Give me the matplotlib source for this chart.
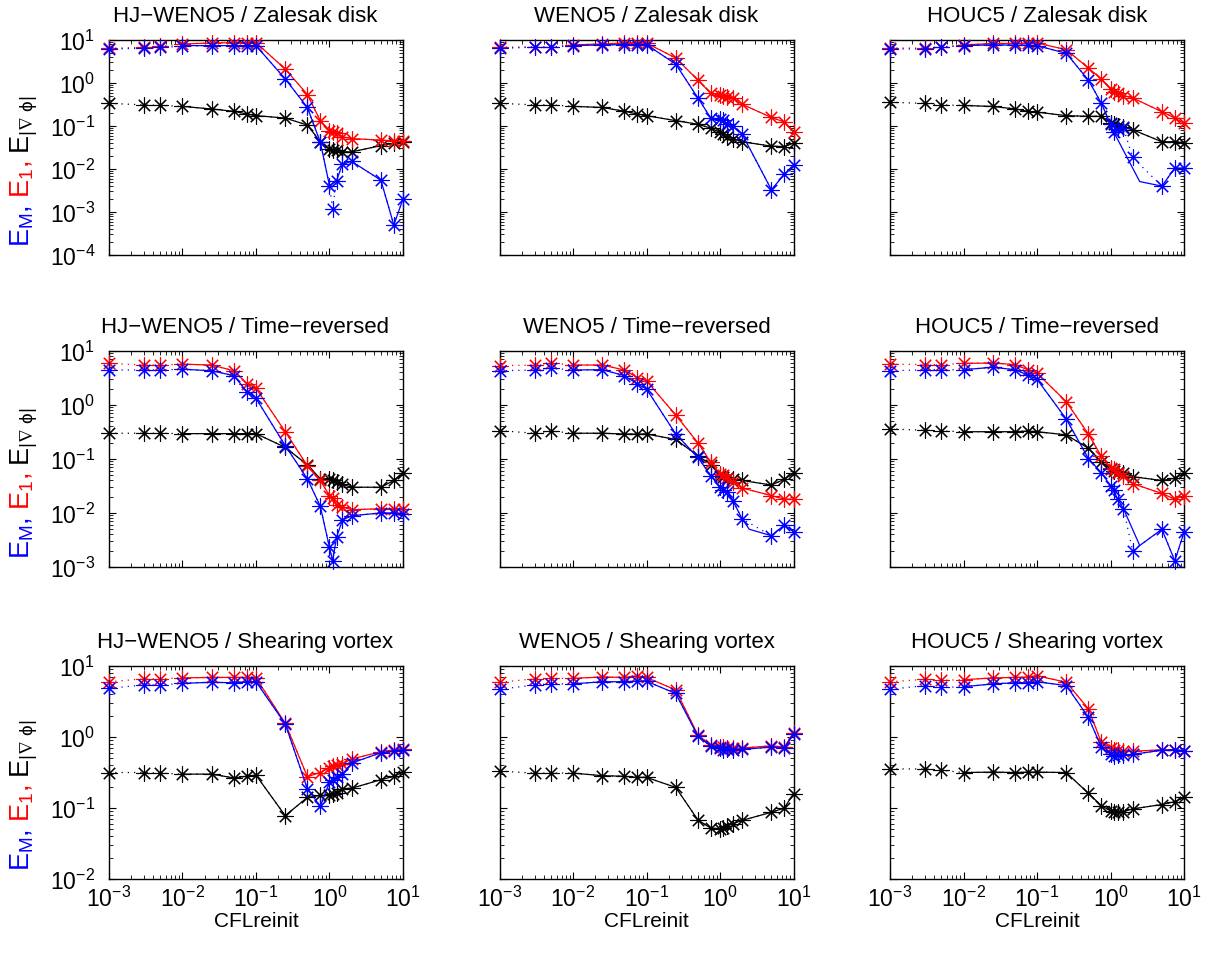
import matplotlib
matplotlib.use("Agg")
import matplotlib.pyplot as plt
from matplotlib.ticker import LogLocator, NullFormatter

plt.rcParams["font.family"] = ["Liberation Sans", "DejaVu Sans"]
plt.rcParams["mathtext.fontset"] = "custom"
plt.rcParams["mathtext.rm"] = "Liberation Sans"
plt.rcParams["mathtext.it"] = "Liberation Sans"

# CFLreinit values (x axis), same for every panel
cfl = [1e-3, 3e-3, 5e-3, 1e-2, 2.5e-2, 5e-2, 7.5e-2, 0.1, 0.25, 0.5, 0.75,
       1.0, 1.1, 1.25, 1.5, 2.0, 5.0, 7.5, 10.0]

schemes = ["HJ\u2212WENO5", "WENO5", "HOUC5"]
cases = ["Zalesak disk", "Time\u2212reversed", "Shearing vortex"]

# Zalesak disk
hj_zal_em = [6.2, 6.4, 6.8, 7.1, 7.4, 7.4, 7.4, 7.4, 1.24, 0.27, 0.042, 0.0041, 0.0012,
             0.0054, 0.013, 0.015, 0.0055, 0.0005, 0.002]
hj_zal_e1 = [6.4, 6.8, 7.1, 8.1, 8.5, 8.7, 8.7, 8.7, 2.1, 0.54, 0.133, 0.078, 0.071,
             0.068, 0.056, 0.051, 0.047, 0.045, 0.044]
hj_zal_eg = [0.336, 0.31, 0.3, 0.286, 0.248, 0.22, 0.19, 0.174, 0.153, 0.105, 0.043, 0.029,
             0.028, 0.027, 0.025, 0.025, 0.035, 0.04, 0.043]
we_zal_em = [6.4, 6.8, 6.8, 7.4, 7.7, 7.8, 7.8, 7.8, 2.75, 0.45, 0.153, 0.146, 0.14,
             0.111, 0.099, 0.065, 0.0033, 0.0075, 0.0125]
we_zal_e1 = [6.8, 6.9, 6.9, 7.7, 8.1, 8.5, 8.7, 8.5, 3.8, 1.17, 0.575, 0.52, 0.5,
             0.47, 0.45, 0.32, 0.158, 0.124, 0.072]
we_zal_eg = [0.336, 0.31, 0.31, 0.286, 0.27, 0.22, 0.19, 0.174, 0.133, 0.11, 0.089, 0.071,
             0.066, 0.056, 0.05, 0.043, 0.034, 0.033, 0.04]
ho_zal_em = [6.2, 6.2, 6.8, 7.4, 7.7, 7.6, 7.6, 7.4, 4.9, 1.17, 0.34, 0.11, 0.074,
             0.085, 0.09, 0.0186, 0.004, 0.0105, 0.0105]
ho_zal_e1 = [6.5, 6.5, 6.9, 7.7, 8.3, 8.3, 8.5, 8.5, 5.96, 2.23, 1.24, 0.72, 0.63,
             0.58, 0.51, 0.45, 0.215, 0.153, 0.115]
ho_zal_eg = [0.355, 0.336, 0.31, 0.3, 0.285, 0.25, 0.22, 0.21, 0.174, 0.168, 0.168, 0.12,
             0.11, 0.1, 0.093, 0.082, 0.043, 0.043, 0.041]

# Time-reversed
hj_tr_em = [4.45, 4.45, 4.45, 4.6, 4.3, 3.5, 1.77, 1.33, 0.177, 0.043, 0.0133, 0.0023, 0.0013,
            0.0036, 0.0074, 0.0089, 0.01, 0.01, 0.0095]
hj_tr_e1 = [5.9, 5.5, 5.5, 5.7, 5.5, 4.3, 2.5, 2.04, 0.32, 0.075, 0.04, 0.021, 0.019,
            0.0138, 0.013, 0.0115, 0.012, 0.012, 0.012]
hj_tr_eg = [0.3, 0.3, 0.3, 0.295, 0.295, 0.295, 0.295, 0.295, 0.164, 0.078, 0.043, 0.043, 0.04,
            0.037, 0.034, 0.03, 0.03, 0.04, 0.055]
we_tr_em = [4.3, 4.45, 4.8, 4.45, 4.5, 3.5, 2.45, 1.98, 0.29, 0.107, 0.049, 0.03, 0.027,
            0.025, 0.0167, 0.0078, 0.0038, 0.006, 0.0045]
we_tr_e1 = [5.35, 5.5, 6.0, 5.5, 5.5, 4.45, 3.2, 2.8, 0.65, 0.2, 0.087, 0.053, 0.05,
            0.045, 0.038, 0.029, 0.021, 0.018, 0.018]
we_tr_eg = [0.335, 0.3, 0.33, 0.3, 0.3, 0.29, 0.29, 0.29, 0.23, 0.115, 0.079, 0.049, 0.047,
            0.045, 0.042, 0.04, 0.033, 0.042, 0.055]
ho_tr_em = [4.3, 4.5, 4.5, 4.5, 5.0, 4.5, 3.6, 3.0, 0.55, 0.102, 0.056, 0.032, 0.027,
            0.018, 0.012, 0.002, 0.005, 0.0013, 0.0044]
ho_tr_e1 = [5.7, 5.6, 5.6, 5.9, 6.0, 5.6, 4.5, 3.9, 1.15, 0.29, 0.112, 0.068, 0.064,
            0.054, 0.048, 0.035, 0.023, 0.018, 0.021]
ho_tr_eg = [0.36, 0.34, 0.33, 0.32, 0.32, 0.32, 0.33, 0.32, 0.28, 0.158, 0.089, 0.065, 0.06,
            0.057, 0.055, 0.047, 0.04, 0.044, 0.054]

# Shearing vortex
hj_sv_em = [4.85, 5.4, 5.4, 5.7, 5.9, 5.8, 6.0, 6.0, 1.53, 0.186, 0.106, 0.23, 0.25,
            0.27, 0.3, 0.43, 0.6, 0.63, 0.66]
hj_sv_e1 = [6.0, 6.6, 6.6, 6.8, 6.9, 6.9, 6.9, 6.8, 1.56, 0.276, 0.316, 0.37, 0.39,
            0.4, 0.42, 0.49, 0.62, 0.66, 0.68]
hj_sv_eg = [0.316, 0.316, 0.31, 0.3, 0.3, 0.265, 0.28, 0.29, 0.078, 0.141, 0.15, 0.15, 0.16,
            0.165, 0.186, 0.19, 0.25, 0.28, 0.32]
we_sv_em = [4.7, 5.4, 5.6, 5.6, 6.0, 6.0, 6.1, 6.1, 4.1, 1.03, 0.74, 0.69, 0.66,
            0.67, 0.66, 0.67, 0.72, 0.7, 1.1]
we_sv_e1 = [5.9, 6.6, 6.7, 6.7, 7.0, 6.9, 7.3, 6.9, 4.6, 1.07, 0.77, 0.73, 0.72,
            0.7, 0.69, 0.7, 0.75, 0.72, 1.15]
we_sv_eg = [0.33, 0.31, 0.31, 0.31, 0.285, 0.28, 0.27, 0.27, 0.195, 0.068, 0.052, 0.051, 0.053,
            0.056, 0.06, 0.067, 0.087, 0.1, 0.16]
ho_sv_em = [4.7, 5.3, 5.0, 5.1, 5.6, 5.8, 5.8, 6.0, 5.3, 1.9, 0.72, 0.57, 0.54,
            0.55, 0.55, 0.57, 0.65, 0.66, 0.64]
ho_sv_e1 = [6.0, 6.5, 6.3, 6.4, 6.8, 6.9, 7.0, 7.3, 5.9, 2.5, 0.84, 0.7, 0.66,
            0.65, 0.64, 0.63, 0.66, 0.66, 0.64]
ho_sv_eg = [0.355, 0.355, 0.34, 0.316, 0.32, 0.316, 0.32, 0.32, 0.316, 0.161, 0.108, 0.091, 0.088,
            0.088, 0.089, 0.097, 0.112, 0.123, 0.141]

# solid curves that leave the marker points somewhere
hj_zal_em_line_x = [1e-2, 2.5e-2, 5e-2, 7.5e-2, 0.1, 0.25, 0.5, 0.75, 1.0, 1.25, 1.5, 2.0, 5.0, 7.5, 10.0]
hj_zal_em_line_y = [7.4, 7.4, 7.4, 7.4, 7.4, 1.24, 0.27, 0.042, 0.0041, 0.0054, 0.013, 0.015,
                    0.0055, 0.0005, 0.002]
ho_zal_em_line_x = [1e-2, 2.5e-2, 5e-2, 7.5e-2, 0.1, 0.25, 0.5, 0.75, 1.0, 1.1, 2.5, 5.0, 7.5, 10.0]
ho_zal_em_line_y = [7.4, 7.7, 7.6, 7.6, 7.4, 4.9, 1.17, 0.34, 0.11, 0.074, 0.0051, 0.004,
                    0.0105, 0.0105]
we_tr_em_line_x = [1e-2, 2.5e-2, 5e-2, 7.5e-2, 0.1, 0.25, 0.5, 0.75, 1.0, 1.1, 1.25, 1.5, 2.0,
                   2.5, 5.0, 7.5, 10.0]
we_tr_em_line_y = [4.45, 4.5, 3.5, 2.45, 1.98, 0.29, 0.107, 0.049, 0.03, 0.027, 0.025, 0.0167,
                   0.0078, 0.005, 0.0038, 0.006, 0.0045]
ho_tr_em_line_x = [1e-2, 2.5e-2, 5e-2, 7.5e-2, 0.1, 0.25, 0.5, 0.75, 1.0, 1.1, 1.25, 1.5, 2.5,
                   5.0, 7.5, 10.0]
ho_tr_em_line_y = [4.5, 5.0, 4.5, 3.6, 3.0, 0.55, 0.102, 0.056, 0.032, 0.027, 0.018, 0.012,
                   0.0025, 0.005, 0.0013, 0.0044]

panels = [
    [(hj_zal_em, hj_zal_e1, hj_zal_eg), (we_zal_em, we_zal_e1, we_zal_eg), (ho_zal_em, ho_zal_e1, ho_zal_eg)],
    [(hj_tr_em, hj_tr_e1, hj_tr_eg), (we_tr_em, we_tr_e1, we_tr_eg), (ho_tr_em, ho_tr_e1, ho_tr_eg)],
    [(hj_sv_em, hj_sv_e1, hj_sv_eg), (we_sv_em, we_sv_e1, we_sv_eg), (ho_sv_em, ho_sv_e1, ho_sv_eg)],
]
blue_lines = {
    (0, 0): (hj_zal_em_line_x, hj_zal_em_line_y),
    (0, 2): (ho_zal_em_line_x, ho_zal_em_line_y),
    (1, 1): (we_tr_em_line_x, we_tr_em_line_y),
    (1, 2): (ho_tr_em_line_x, ho_tr_em_line_y),
}
y_bottoms = [1e-4, 1e-3, 1e-2]
colors = ["#0000ff", "#ff0000", "#000000"]
asterisk = (8, 2, 0)

W, H = 1222, 954
fig = plt.figure(figsize=(W / 100, H / 100), dpi=100)

col_left = [109, 499.5, 890]
col_width = 294
row_box = [(41, 256), (352, 568), (667, 880)]
title_x = [0.462, 0.5, 0.5]

for r in range(3):
    for c in range(3):
        top, bottom = row_box[r]
        ax = fig.add_axes([col_left[c] / W, 1 - bottom / H, col_width / W, (bottom - top) / H])
        ax.set_xscale("log")
        ax.set_yscale("log")
        for k, (vals, color) in enumerate(zip(panels[r][c], colors)):
            ax.plot(cfl, vals, linestyle=(0, (1, 4)), linewidth=0.9, color=color,
                    marker=asterisk, markersize=11.5, markeredgewidth=0.8, clip_on=False, zorder=3 - k * 0.1)
            if k == 0 and (r, c) in blue_lines:
                lx, ly = blue_lines[(r, c)]
            else:
                lx, ly = cfl[3:], vals[3:]
            ax.plot(lx, ly, "-", linewidth=0.9, color=color, clip_on=False, zorder=3 - k * 0.1)
        ax.set_xlim(1e-3, 10)
        ax.set_ylim(y_bottoms[r], 10)
        ax.xaxis.set_major_locator(LogLocator(base=10, numticks=10))
        ax.yaxis.set_major_locator(LogLocator(base=10, numticks=10))
        ax.xaxis.set_minor_locator(LogLocator(base=10, subs=range(2, 10), numticks=20))
        ax.yaxis.set_minor_locator(LogLocator(base=10, subs=range(2, 10), numticks=20))
        ax.xaxis.set_minor_formatter(NullFormatter())
        ax.yaxis.set_minor_formatter(NullFormatter())
        ax.tick_params(which="both", direction="in", top=True, right=True, labelsize=16.5)
        ax.tick_params(which="major", length=5, width=0.8)
        ax.tick_params(which="minor", length=3, width=0.6)
        ax.tick_params(axis="x", pad=5)
        ax.tick_params(axis="y", pad=10)
        for sp in ax.spines.values():
            sp.set_linewidth(1.0)
        if r < 2:
            ax.tick_params(labelbottom=False)
        else:
            ax.set_xlabel("CFLreinit", fontsize=15, labelpad=0)
        if c > 0:
            ax.tick_params(labelleft=False)
        ax.set_title(f"{schemes[c]} / {cases[r]}", fontsize=16, pad=14, x=title_x[c])

# coloured y labels on the left column
fig.canvas.draw()
renderer = fig.canvas.get_renderer()
pieces = [(r"$\mathregular{E_M}$,", colors[0]), (r" $\mathregular{E_1}$,", colors[1]),
          (r" $\mathregular{E_{|\nabla\ \phi|}}$", colors[2])]
for r in range(3):
    top, bottom = row_box[r]
    y = H - bottom + 9
    for txt, color in pieces:
        t = fig.text(29 / W, y / H, txt, color=color, fontsize=19.5, rotation=90,
                     rotation_mode="anchor", ha="left", va="baseline")
        ext = t.get_window_extent(renderer)
        y += ext.height

fig.savefig("out.png", dpi=100)
